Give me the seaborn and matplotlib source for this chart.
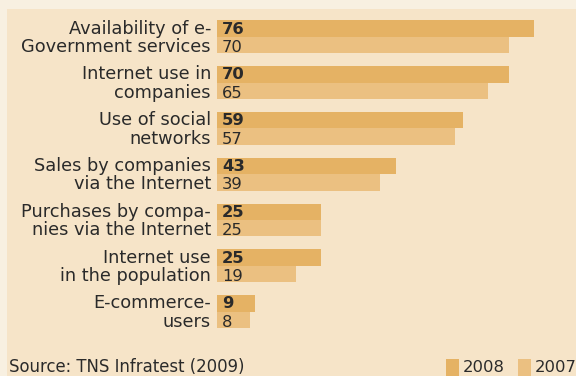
import matplotlib
matplotlib.use("Agg")
import matplotlib.pyplot as plt
import seaborn as sns
import pandas as pd
from matplotlib.patches import Rectangle

categories = [
    ("Availability of e-", "Government services"),
    ("Internet use in", "companies"),
    ("Use of social", "networks"),
    ("Sales by companies", "via the Internet"),
    ("Purchases by compa-", "nies via the Internet"),
    ("Internet use", "in the population"),
    ("E-commerce-", "users"),
]
years = ["2008", "2007"]
values_2008 = [76, 70, 59, 43, 25, 25, 9]
values_2007 = [70, 65, 57, 39, 25, 19, 8]
source_text = "Source: TNS Infratest (2009)"

OUTER_BG = "#F8F0E1"
PANEL_BG = "#F6E4C8"
C2008 = "#E5B264"
C2007 = "#EBC081"
TEXT = "#2A2A2A"

keys = [" ".join(c) for c in categories]
df = pd.DataFrame({
    "category": keys * 2,
    "year": [years[0]] * len(keys) + [years[1]] * len(keys),
    "value": values_2008 + values_2007,
})

sns.set_theme(style="white")
plt.rcParams["font.family"] = ["DejaVu Sans"]

W, H = 576, 376
fig = plt.figure(figsize=(W / 100, H / 100), dpi=100, facecolor=OUTER_BG)

# light panel behind the chart
fig.patches.append(Rectangle((7 / W, 0), 1, 1 - 9 / H, transform=fig.transFigure,
                             facecolor=PANEL_BG, edgecolor="none", zorder=-10))

# axes placed so that one value unit and one category step map to fixed pixel sizes
x0_px, px_per_unit = 217, 4.17
row0_px, row_step = 36.8, 45.8
top_px, bot_px = 9, 345
ax = fig.add_axes([x0_px / W, 1 - bot_px / H, (W - x0_px) / W, (bot_px - top_px) / H])
ax.patch.set_alpha(0)
ax.set_zorder(5)

sns.barplot(data=df, y="category", x="value", hue="year", order=keys,
            hue_order=years, palette=[C2008, C2007], orient="h",
            width=0.72, dodge=True, saturation=1, legend=False,
            linewidth=0, edgecolor="none", ax=ax)

ax.set_xlim(0, (W - x0_px) / px_per_unit)
ax.set_ylim((bot_px - row0_px) / row_step, (top_px - row0_px) / row_step)
ax.set_axis_off()

fs = 12.8
num_fs = 11.8
off = 0.18
for i, (l1, l2) in enumerate(categories):
    y1 = i - off + 0.11
    y2 = i + off + 0.15
    ax.text(-1.45, y1, l1, ha="right", va="baseline", fontsize=fs, color=TEXT,
            clip_on=False)
    ax.text(-1.45, y2, l2, ha="right", va="baseline", fontsize=fs, color=TEXT,
            clip_on=False)
    ax.text(1.2, y1, str(values_2008[i]), ha="left", va="baseline",
            fontsize=num_fs, color=TEXT, fontweight="bold")
    ax.text(1.2, y2, str(values_2007[i]), ha="left", va="baseline",
            fontsize=num_fs, color=TEXT)

# footer: source note and legend
fig.text(9 / W, 1 - 372 / H, source_text, ha="left", va="baseline",
         fontsize=11.9, color=TEXT)
for x_sw, label in [(446, years[0]), (518, years[1])]:
    col = C2008 if label == years[0] else C2007
    fig.patches.append(Rectangle((x_sw / W, 0), 13 / W, 17 / H,
                                 transform=fig.transFigure, facecolor=col,
                                 edgecolor="none", zorder=1))
    fig.text((x_sw + 17) / W, 1 - 372 / H, label, ha="left", va="baseline",
             fontsize=11.8, color=TEXT)

fig.savefig("out.png", dpi=100, facecolor=OUTER_BG)
